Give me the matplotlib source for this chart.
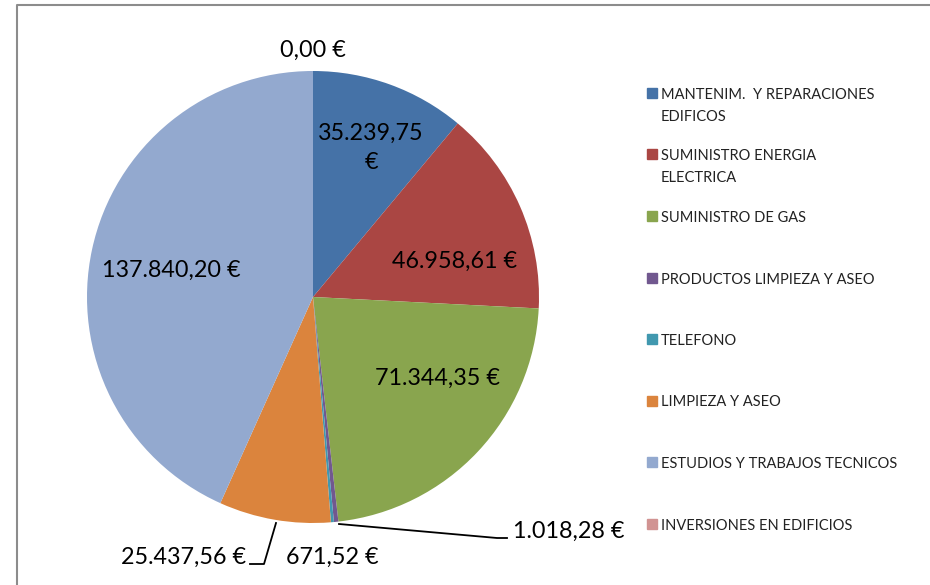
import matplotlib
matplotlib.use("Agg")
import matplotlib.pyplot as plt
from matplotlib.lines import Line2D
from matplotlib.patches import Rectangle

# datos del gráfico
categorias = [
    "MANTENIM.  Y REPARACIONES\nEDIFICOS",
    "SUMINISTRO ENERGIA\nELECTRICA",
    "SUMINISTRO DE GAS",
    "PRODUCTOS LIMPIEZA Y ASEO",
    "TELEFONO",
    "LIMPIEZA Y ASEO",
    "ESTUDIOS Y TRABAJOS TECNICOS",
    "INVERSIONES EN EDIFICIOS",
]
importes = [35239.75, 46958.61, 71344.35, 1018.28, 671.52, 25437.56, 137840.20, 0.00]
colores = ["#4572A7", "#AA4643", "#89A54E", "#71588F",
           "#4198AF", "#DB843D", "#93A9CF", "#D19392"]

plt.rcParams['font.family'] = ['Lato', 'DejaVu Sans']

W, H = 930, 585
fig = plt.figure(figsize=(W / 100, H / 100), dpi=100)

# centro y radio de la tarta en píxeles
cx, cy, r = 313, 297, 226
ax = fig.add_axes([(cx - r) / W, (H - cy - r) / H, 2 * r / W, 2 * r / H])
ax.pie(importes, colors=colores, startangle=90, counterclock=False,
       radius=1, wedgeprops=dict(linewidth=0))
ax.set_xlim(-1, 1)
ax.set_ylim(-1, 1)
ax.set_aspect('auto')
ax.axis('off')


def euro(v):
    s = f"{v:,.2f}".replace(",", "X").replace(".", ",").replace("X", ".")
    return s + " €"


def px(x, y):
    # píxeles de la imagen -> coordenadas de la figura
    return x / W, 1 - y / H


# etiquetas de datos (posición en píxeles, alineación)
etiquetas = [
    ((371, 148), "center", euro(importes[0]).replace(" €", "\n€")),
    ((455, 261), "center", euro(importes[1])),
    ((437, 378), "center", euro(importes[2])),
    ((513, 531), "left", euro(importes[3])),
    ((332, 557), "center", euro(importes[4])),
    ((246, 557), "right", euro(importes[5])),
    ((171, 270), "center", euro(importes[6])),
    ((313, 50), "center", euro(importes[7])),
]
for (x, y), ha, txt in etiquetas:
    fx, fy = px(x, y)
    fig.text(fx, fy, txt, ha=ha, va="center", fontsize=16.8,
             color="black", linespacing=1.45)

# líneas guía
guias = [
    [(339, 524), (497, 538), (507, 538)],
    [(276, 523), (264, 564), (250, 564)],
]
for g in guias:
    xs = [px(*p)[0] for p in g]
    ys = [px(*p)[1] for p in g]
    fig.add_artist(Line2D(xs, ys, color="black", lw=1.3))

# leyenda manual
ly0, paso = 93, 61.5
for i, (cat, col) in enumerate(zip(categorias, colores)):
    y = ly0 + i * paso
    fx, fy = px(647, y + 5)
    fig.add_artist(Rectangle((fx, fy), 10 / W, 10 / H, color=col,
                             transform=fig.transFigure))
    tx, ty = px(661, y - 5)
    fig.text(tx, ty, cat, ha="left", va="top", fontsize=10.5,
             color="#222222", linespacing=1.7)

# marco del gráfico
fig.add_artist(Line2D([17 / W, 17 / W, 1.02], [-0.02, 1 - 5 / H, 1 - 5 / H],
                      color="#8c8c8c", lw=1.5))

fig.savefig("out.png", dpi=100)
